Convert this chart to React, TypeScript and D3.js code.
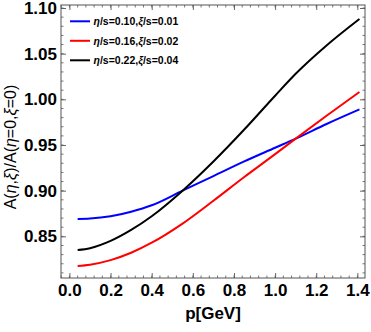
import React, { useEffect, useRef } from 'react';
import * as d3 from 'd3';

// momentum grid [GeV] and ratio values
const momenta = [0.04, 0.1, 0.2, 0.3, 0.4, 0.55, 0.7, 0.85, 1.0, 1.1, 1.25, 1.41];
const blueSeries = [0.869, 0.8695, 0.872, 0.877, 0.884, 0.9, 0.916, 0.932, 0.947, 0.957, 0.973, 0.989];
const redSeries = [0.8176, 0.819, 0.824, 0.832, 0.843, 0.864, 0.889, 0.915, 0.94, 0.957, 0.982, 1.008];
const blackSeries = [0.835, 0.837, 0.845, 0.857, 0.872, 0.9, 0.932, 0.967, 1.004, 1.028, 1.059, 1.088];

const xTicks = [0, 0.2, 0.4, 0.6, 0.8, 1.0, 1.2, 1.4];
const yTicks = [0.85, 0.9, 0.95, 1.0, 1.05, 1.1];

const legendEntries = [
    { eta: '0.10', xi: '0.01', color: '#0000ff', values: blueSeries },
    { eta: '0.16', xi: '0.02', color: '#ff0000', values: redSeries },
    { eta: '0.22', xi: '0.04', color: '#000000', values: blackSeries }
];

const App = () => {
    const svgRef = useRef(null);

    useEffect(() => {
        const svg = d3.select(svgRef.current);
        svg.selectAll('*').remove();

        const left = 61, right = 365, top = 5, bottom = 278;
        const font = '"Liberation Sans", Arial, sans-serif';
        const frameColor = '#555';

        const x = d3.scaleLinear().domain([-0.041, 1.437]).range([left, right]);
        const y = d3.scaleLinear().domain([0.8044, 1.1033]).range([bottom, top]);

        const xMinor = d3.range(-0.04, 1.44, 0.04).filter(v => x(v) >= left - 0.5 && x(v) <= right + 0.5);
        const yMinor = d3.range(0.81, 1.105, 0.01);

        // minor ticks (all four sides, inward)
        const minor = svg.append('g').attr('stroke', frameColor).attr('stroke-width', 0.8);
        xMinor.forEach(v => {
            minor.append('line').attr('x1', x(v)).attr('x2', x(v)).attr('y1', bottom).attr('y2', bottom - 2.5);
            minor.append('line').attr('x1', x(v)).attr('x2', x(v)).attr('y1', top).attr('y2', top + 2.5);
        });
        yMinor.forEach(v => {
            minor.append('line').attr('x1', left).attr('x2', left + 2.5).attr('y1', y(v)).attr('y2', y(v));
            minor.append('line').attr('x1', right).attr('x2', right - 2.5).attr('y1', y(v)).attr('y2', y(v));
        });

        const styleAxis = (g) => {
            g.select('.domain').remove();
            g.selectAll('line').attr('stroke', frameColor).attr('stroke-width', 0.9);
            g.selectAll('text')
                .attr('fill', '#000')
                .attr('font-family', font)
                .attr('font-weight', 'bold')
                .attr('font-size', 17);
        };

        svg.append('g')
            .attr('transform', `translate(0,${bottom})`)
            .call(d3.axisBottom(x).tickValues(xTicks).tickSizeInner(-5).tickSizeOuter(0).tickPadding(6).tickFormat(d3.format('.1f')))
            .call(styleAxis);

        svg.append('g')
            .attr('transform', `translate(0,${top})`)
            .call(d3.axisTop(x).tickValues(xTicks).tickSizeInner(-5).tickSizeOuter(0).tickFormat(() => ''))
            .call(styleAxis);

        svg.append('g')
            .attr('transform', `translate(${left},0)`)
            .call(d3.axisLeft(y).tickValues(yTicks).tickSizeInner(-5).tickSizeOuter(0).tickPadding(4).tickFormat(d3.format('.2f')))
            .call(styleAxis);

        svg.append('g')
            .attr('transform', `translate(${right},0)`)
            .call(d3.axisRight(y).tickValues(yTicks).tickSizeInner(-5).tickSizeOuter(0).tickFormat(() => ''))
            .call(styleAxis);

        // frame
        svg.append('rect')
            .attr('x', left).attr('y', top)
            .attr('width', right - left).attr('height', bottom - top)
            .attr('fill', 'none').attr('stroke', frameColor).attr('stroke-width', 1);

        // curves
        const line = d3.line()
            .x((d, i) => x(momenta[i]))
            .y(d => y(d))
            .curve(d3.curveMonotoneX);

        legendEntries.forEach(s => {
            svg.append('path')
                .datum(s.values)
                .attr('d', line)
                .attr('fill', 'none')
                .attr('stroke', s.color)
                .attr('stroke-width', 2);
        });

        // legend
        const legend = svg.append('g');
        legendEntries.forEach((s, i) => {
            const ly = 21.3 + i * 19.5;
            legend.append('line')
                .attr('x1', 70).attr('x2', 90).attr('y1', ly).attr('y2', ly)
                .attr('stroke', s.color).attr('stroke-width', 2);
            const t = legend.append('text')
                .attr('x', 93.5).attr('y', ly + 4)
                .attr('font-family', font).attr('font-size', 10.5).attr('font-weight', 'bold');
            t.append('tspan').attr('font-style', 'italic').text('η');
            t.append('tspan').text(`/s=${s.eta},`);
            t.append('tspan').attr('font-style', 'italic').text('ξ');
            t.append('tspan').text(`/s=${s.xi}`);
        });

        // axis titles
        svg.append('text')
            .attr('x', (left + right) / 2).attr('y', 319)
            .attr('text-anchor', 'middle')
            .attr('font-family', font).attr('font-size', 17).attr('font-weight', 'bold')
            .text('p[GeV]');

        const yt = svg.append('text')
            .attr('transform', 'translate(16,147) rotate(-90)')
            .attr('text-anchor', 'middle')
            .attr('font-family', font).attr('font-size', 16);
        yt.append('tspan').text('A(');
        yt.append('tspan').attr('font-style', 'italic').text('η');
        yt.append('tspan').text(',');
        yt.append('tspan').attr('font-style', 'italic').text('ξ');
        yt.append('tspan').text(')/A(');
        yt.append('tspan').attr('font-style', 'italic').text('η');
        yt.append('tspan').text('=0,');
        yt.append('tspan').attr('font-style', 'italic').text('ξ');
        yt.append('tspan').text('=0)');
    }, []);

    return (
        <svg
            ref={svgRef}
            width={371}
            height={332}
            style={{ position: 'absolute', left: 0, top: 0, background: '#fff' }}
        ></svg>
    );
};

export default App;
